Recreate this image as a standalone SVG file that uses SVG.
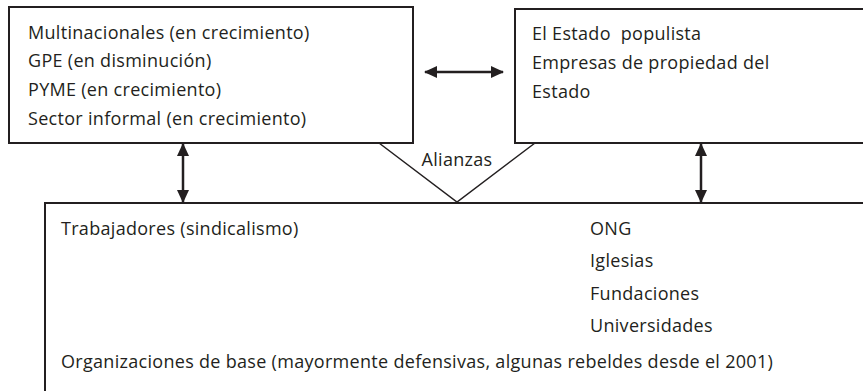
<svg xmlns="http://www.w3.org/2000/svg" width="863" height="391" viewBox="0 0 863 391">
<style>
.box{fill:#fff;stroke:#231f20;stroke-width:2}
.t{font-family:"Open Sans","Liberation Sans",sans-serif;font-size:18px;letter-spacing:0.3px;fill:#231f20}
.c{stroke:#231f20;stroke-width:2.5;fill:none}
.v{stroke:#231f20;stroke-width:1.5;fill:none}
</style>
<defs>
<marker id="ah" viewBox="0 0 13 12" refX="12" refY="6" markerWidth="13" markerHeight="12" markerUnits="userSpaceOnUse" orient="auto-start-reverse">
<path d="M0,0 L13,6 L0,12 Z" fill="#231f20"/>
</marker>
</defs>
<rect width="863" height="391" fill="#fff"/>
<g id="actores-economicos">
<rect class="box" x="9" y="7" width="404" height="136"/>
<text class="t" x="28" y="39">Multinacionales (en crecimiento)</text>
<text class="t" x="28" y="67">GPE (en disminución)</text>
<text class="t" x="28" y="96">PYME (en crecimiento)</text>
<text class="t" x="28" y="125">Sector informal (en crecimiento)</text>
</g>
<g id="estado">
<rect class="box" x="515" y="9" width="360" height="134"/>
<text class="t" x="532" y="40">El Estado&#160; populista</text>
<text class="t" x="532" y="69">Empresas de propiedad del</text>
<text class="t" x="532" y="98">Estado</text>
</g>
<g id="sociedad">
<rect class="box" x="45" y="203" width="830" height="200"/>
<text class="t" x="61" y="235">Trabajadores (sindicalismo)</text>
<text class="t" x="590" y="235">ONG</text>
<text class="t" x="590" y="267">Iglesias</text>
<text class="t" x="590" y="300">Fundaciones</text>
<text class="t" x="590" y="332">Universidades</text>
<text class="t" x="61" y="368">Organizaciones de base (mayormente defensivas, algunas rebeldes desde el 2001)</text>
</g>
<g id="conectores">
<line class="c" x1="425" y1="72" x2="503" y2="72" marker-start="url(#ah)" marker-end="url(#ah)"/>
<line class="c" x1="183" y1="144" x2="183" y2="202" marker-start="url(#ah)" marker-end="url(#ah)"/>
<line class="c" x1="701" y1="144" x2="701" y2="202" marker-start="url(#ah)" marker-end="url(#ah)"/>
<polyline class="v" points="379,143 457,202 535,143"/>
<text class="t" x="457" y="166" text-anchor="middle">Alianzas</text>
</g>
</svg>
